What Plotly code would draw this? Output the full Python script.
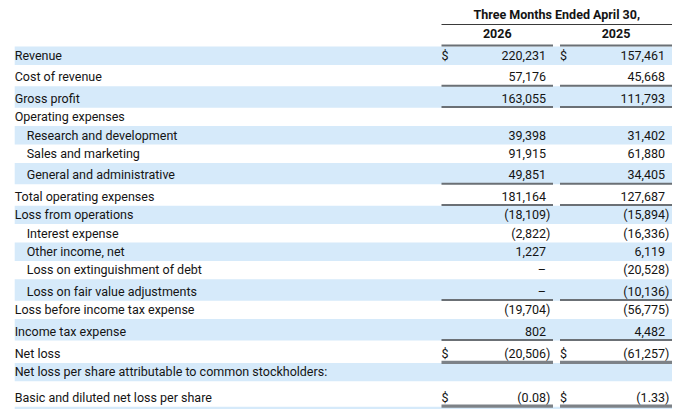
import plotly.graph_objects as go

# statement lines, in thousands except per-share data
labels = [
    "Revenue", "Cost of revenue", "Gross profit", "Operating expenses",
    "Research and development", "Sales and marketing", "General and administrative",
    "Total operating expenses", "Loss from operations", "Interest expense",
    "Other income, net", "Loss on extinguishment of debt", "Loss on fair value adjustments",
    "Loss before income tax expense", "Income tax expense", "Net loss",
    "Net loss per share attributable to common stockholders:",
    "Basic and diluted net loss per share",
]
indent = [0, 0, 0, 0, 1, 1, 1, 0, 0, 1, 1, 1, 1, 0, 0, 0, 0, 0]
values_2026 = [220231, 57176, 163055, None, 39398, 91915, 49851, 181164, -18109,
               -2822, 1227, 0, 0, -19704, 802, -20506, None, -0.08]
values_2025 = [157461, 45668, 111793, None, 31402, 61880, 34405, 127687, -15894,
               -16336, 6119, -20528, -10136, -56775, 4482, -61257, None, -1.33]
dollar_rows = ["Revenue", "Net loss", "Basic and diluted net loss per share"]
per_share_rows = ["Basic and diluted net loss per share"]
underline = [None, "single", "single", None, None, None, "single", "single", None,
             None, None, None, "single", None, "single", "double", None, "double"]
header = "Three Months Ended April 30,"
years = ["2026", "2025"]

FONT = "Roboto"
TXT = "#141414"
SHADE = "#d6eafa"
RULE = "#6b7075"

W, H = 680, 409
LABEL_X = 14.7
INDENT = 12
COLS = [(441.5, 553), (560, 672)]  # column segment left/right

# row geometry
base_h = 18.4
extra = {"single": 3.0, "double": 4.0}
tops, bottoms = [], []
y = 46.5
for i, u in enumerate(underline):
    h = base_h + extra.get(u, 0)
    if i == len(underline) - 1:
        h += 3
    tops.append(y)
    y += h
    bottoms.append(y)
text_y = [b - 8.0 for b in bottoms]


def fmt(v, label):
    if v is None:
        return "", ""
    if v == 0:
        return "–", ""
    s = f"{abs(v):,.2f}" if label in per_share_rows else f"{abs(v):,.0f}"
    if v < 0:
        return "(" + s, ")"
    return s, ""


shapes = []
# banded rows (even rows shaded, plus the start of the next one)
for i in range(len(labels) + 1):
    if i % 2:
        continue
    t = tops[i] if i < len(labels) else bottoms[-1]
    b = bottoms[i] if i < len(labels) else bottoms[-1] + base_h
    shapes.append(dict(type="rect", x0=LABEL_X, x1=COLS[1][1], y0=t, y1=b,
                       fillcolor=SHADE, line_width=0, layer="below"))

# header rules
shapes.append(dict(type="line", x0=COLS[0][0], x1=COLS[1][1], y0=24.5, y1=24.5,
                   line=dict(color="#3a3a3a", width=1.2)))
for x0, x1 in COLS:
    shapes.append(dict(type="line", x0=x0, x1=x1, y0=45.5, y1=45.5,
                       line=dict(color=RULE, width=2)))

# underlines below subtotal rows
for i, u in enumerate(underline):
    if u is None:
        continue
    for x0, x1 in COLS:
        shapes.append(dict(type="line", x0=x0, x1=x1, y0=bottoms[i] - 0.6, y1=bottoms[i] - 0.6,
                           line=dict(color=RULE if u == "single" else "#7d8287",
                                     width=2 if u == "single" else 3.2)))

fig = go.Figure()
font = dict(family=FONT, size=12.5, color=TXT)

# row labels
fig.add_trace(go.Scatter(
    x=[LABEL_X + INDENT * k for k in indent], y=text_y, text=labels,
    mode="text", textposition="middle right", textfont=font, hoverinfo="skip"))

# header text
fig.add_trace(go.Scatter(
    x=[(COLS[0][0] + COLS[1][1]) / 2] + [(a + b) / 2 for a, b in COLS],
    y=[15.5, 34.5, 34.5], text=[header] + years,
    mode="text", textposition="middle center",
    textfont=dict(family=FONT, size=12.5, color=TXT, weight=700), hoverinfo="skip"))

for (x0, x1), vals in zip(COLS, [values_2026, values_2025]):
    nums = [fmt(v, lab) for v, lab in zip(vals, labels)]
    right = x1 - 7
    fig.add_trace(go.Scatter(
        x=[right] * len(labels), y=text_y, text=[n[0] for n in nums],
        mode="text", textposition="middle left", textfont=font, hoverinfo="skip"))
    fig.add_trace(go.Scatter(
        x=[right] * len(labels), y=text_y, text=[n[1] for n in nums],
        mode="text", textposition="middle right", textfont=font, hoverinfo="skip"))
    fig.add_trace(go.Scatter(
        x=[x0] * len(labels), y=text_y,
        text=["$" if lab in dollar_rows else "" for lab in labels],
        mode="text", textposition="middle right", textfont=font, hoverinfo="skip"))

fig.update_layout(
    width=W, height=H, margin=dict(l=0, r=0, t=0, b=0),
    paper_bgcolor="white", plot_bgcolor="white", showlegend=False,
    shapes=shapes,
    xaxis=dict(range=[0, W], visible=False, fixedrange=True),
    yaxis=dict(range=[H, 0], visible=False, fixedrange=True),
)

# drop the browser's default page margin so the chart sits at the window's corner
fig.write_html("out.html", config={"displayModeBar": False},
               post_script="document.body.style.margin='0';")
